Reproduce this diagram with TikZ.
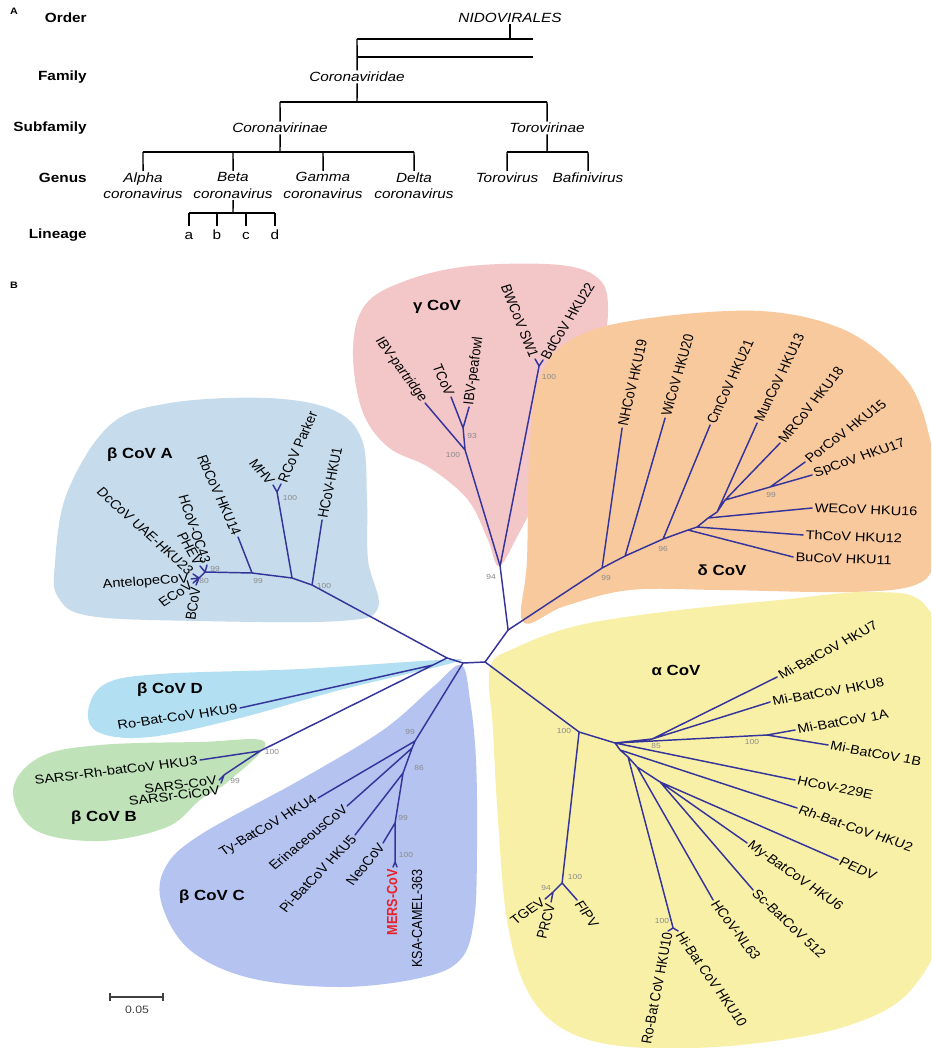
\documentclass[tikz,border=0pt]{standalone}
\usepackage{fontspec}
\setmainfont{Liberation Sans}
\usetikzlibrary{calc}
\definecolor{treec}{HTML}{34349A}
\definecolor{blobA}{HTML}{C6DBEB}
\definecolor{blobG}{HTML}{F3C6C8}
\definecolor{blobDel}{HTML}{F9C99E}
\definecolor{blobAl}{HTML}{F9F0A7}
\definecolor{blobD}{HTML}{B2DFF2}
\definecolor{blobB}{HTML}{BFE2B9}
\definecolor{blobC}{HTML}{B5C3F0}
\definecolor{bsgray}{HTML}{8A8A8A}
\definecolor{mersred}{HTML}{E8202A}
\begin{document}
\begin{tikzpicture}[x=0.65217pt,y=-0.75pt,
  br/.style={draw=treec, line width=1.1pt, line cap=round, line join=round},
  tl/.style={draw=black, line width=1.1pt},
  lf/.style={font=\fontsize{9.5}{11}\selectfont, inner sep=1.5pt},
  lr/.style={rotate={atan(1.15*tan(#1))}},
  bs/.style={font=\fontsize{5.5}{6}\selectfont, text=bsgray, inner sep=0pt},
  clade/.style={font=\fontsize{11}{13}\selectfont\bfseries},
  rank/.style={font=\fontsize{10}{12}\selectfont\bfseries, anchor=east, inner sep=0pt},
  taxon/.style={font=\fontsize{10}{12.5}\selectfont\itshape, inner sep=1pt, align=center},
  lin/.style={font=\fontsize{10}{12}\selectfont, inner sep=0pt, anchor=base},
  panel/.style={font=\fontsize{7}{8}\selectfont\bfseries, inner sep=0pt}]
\begin{scope}[xscale=1.15, transform shape]
\useasboundingbox (0,0) rectangle (931,1048);
\fill[white] (0,0) rectangle (931,1048);

% ---------------- Panel A ----------------
\node[panel] (pA) at (14,11) {A};
\node[rank] (rOrder) at (87,18) {Order};
\node[rank] (rFamily) at (87,77) {Family};
\node[rank] (rSub) at (87,128) {Subfamily};
\node[rank] (rGenus) at (87,178) {Genus};
\node[rank] (rLin) at (87,235) {Lineage};

\node[taxon] (nido) at (510,18) {NIDOVIRALES};
\node[taxon] (corv) at (357,77) {Coronaviridae};
\node[taxon] (corvi) at (280,128) {Coronavirinae};
\node[taxon] (torvi) at (547,128) {Torovirinae};
\node[taxon, anchor=north] (gAlpha) at (143,171) {Alpha\\coronavirus};
\node[taxon, anchor=north] (gBeta) at (233,171) {Beta\\coronavirus};
\node[taxon, anchor=north] (gGamma) at (323,171) {Gamma\\coronavirus};
\node[taxon, anchor=north] (gDelta) at (414,171) {Delta\\coronavirus};
\node[taxon, anchor=north] (gToro) at (507,171) {Torovirus};
\node[taxon, anchor=north] (gBafi) at (588,171) {Bafinivirus};
\node[lin] (la) at (189,240) {a};
\node[lin] (lb) at (217,240) {b};
\node[lin] (lc) at (246,240) {c};
\node[lin] (ld) at (275,240) {d};

\draw[tl] (nido.south) -- (nido.south |- 0,39);
\draw[tl] (357,39) -- (533,39);
\draw[tl] (357,57) -- (533,57);
\draw[tl] (357,39) -- (corv.north);
\draw[tl] (corv.south) -- (357,102);
\draw[tl] (280,102) -- (547,102);
\draw[tl] (280,102) -- (corvi.north);
\draw[tl] (547,102) -- (torvi.north);
\draw[tl] (corvi.south) -- (280,152);
\draw[tl] (143,152) -- (414,152);
\draw[tl] (143,152) -- (gAlpha.north);
\draw[tl] (233,152) -- (gBeta.north);
\draw[tl] (323,152) -- (gGamma.north);
\draw[tl] (414,152) -- (gDelta.north);
\draw[tl] (torvi.south) -- (547,152);
\draw[tl] (507,152) -- (588,152);
\draw[tl] (507,152) -- (gToro.north);
\draw[tl] (588,152) -- (gBafi.north);
\draw[tl] (gBeta.south) -- (233,213);
\draw[tl] (189,213) -- (275,213);
\draw[tl] (189,213) -- (189,226);
\draw[tl] (217,213) -- (217,226);
\draw[tl] (246,213) -- (246,226);
\draw[tl] (275,213) -- (275,226);

% ---------------- Panel B ----------------
\node[panel] (pB) at (14,285) {B};

\begin{scope}
\clip (0,0) rectangle (931,1048);
\fill[blobA] plot[smooth cycle, tension=0.6] coordinates {(55,563) (67,493) (110,425) (170,403) (267,398) (333,410) (362,440) (367,500) (368,560) (378,608) (340,621) (200,621) (90,616) (58,597)};
\fill[blobG] plot[smooth cycle, tension=0.6] coordinates {(353,350) (365,305) (405,281) (470,266) (560,265) (600,280) (608,312) (600,352) (578,402) (548,475) (518,535) (499,566) (488,540) (468,500) (430,468) (388,447) (362,410)};
\fill[blobDel] plot[smooth cycle, tension=0.6] coordinates {(523,622) (527,560) (530,440) (542,372) (578,336) (650,318) (760,311) (840,328) (893,365) (922,410) (940,500) (935,560) (915,585) (850,592) (720,590) (630,590) (565,606)};
\fill[blobAl] plot[smooth cycle, tension=0.6] coordinates {(490,668) (515,648) (580,625) (680,610) (780,600) (870,592) (925,605) (945,680) (945,900) (915,985) (850,1025) (740,1045) (630,1047) (565,1030) (527,990) (507,920) (498,820) (493,730)};
\fill[blobD] plot[smooth cycle, tension=0.6] coordinates {(88,712) (105,684) (160,674) (300,669) (440,660) (452,663) (340,690) (240,718) (150,737) (100,733)};
\fill[blobB] plot[smooth cycle, tension=0.6] coordinates {(13,790) (40,757) (100,745) (200,742) (265,742) (230,780) (200,800) (167,827) (100,841) (35,830)};
\fill[blobC] plot[smooth cycle, tension=0.6] coordinates {(461,665) (470,700) (476,760) (477,850) (474,920) (460,960) (420,978) (340,987) (250,978) (190,950) (162,905) (165,868) (200,835) (300,780) (383,730) (433,687)};
\end{scope}

% ---- tree coordinates ----
\coordinate (hubL) at (447,658); \coordinate (hubC) at (463,663);
\coordinate (hubR) at (485,662); \coordinate (nGD) at (508,630);
\coordinate (bA1) at (312,585); \coordinate (bA2) at (292,578);
\coordinate (bA3) at (252,573); \coordinate (bA4) at (205,572);
\coordinate (bA5) at (199,578);
\coordinate (lHKU1) at (322,520); \coordinate (fMHV) at (277,492);
\coordinate (lMHV) at (273,485); \coordinate (lRCoV) at (281,484);
\coordinate (lRb) at (238,537); \coordinate (lOC43) at (207,565);
\coordinate (lPHEV) at (200,566); \coordinate (lDc) at (193,574);
\coordinate (lAnt) at (191,579); \coordinate (lE) at (193,583);
\coordinate (lBC) at (196,585);
\coordinate (nDB) at (433,665); \coordinate (lHKU9) at (240,708);
\coordinate (bB1) at (260,751); \coordinate (lHKU3) at (200,760);
\coordinate (bB2) at (224,775); \coordinate (lSARS) at (219,780);
\coordinate (lCi) at (221,783);
\coordinate (bC1) at (415,741); \coordinate (bC2) at (412,748);
\coordinate (bC3) at (403,773); \coordinate (bC4) at (395,823);
\coordinate (bC5) at (395,862);
\coordinate (lTy) at (318,798); \coordinate (lEri) at (347,806);
\coordinate (lPi) at (355,835); \coordinate (lNeo) at (383,843);
\coordinate (lMERS) at (393,867); \coordinate (lKSA) at (397,867);
\coordinate (g94) at (500,566); \coordinate (g100) at (465,450);
\coordinate (g93) at (463,428); \coordinate (lIBVp) at (425,403);
\coordinate (lTCoV) at (451,397); \coordinate (lIBVpf) at (469,407);
\coordinate (gBd) at (539,366); \coordinate (lBW) at (535,359);
\coordinate (lBd) at (543,360);
\coordinate (d1) at (602,568); \coordinate (lNH) at (622,428);
\coordinate (d2) at (625,556); \coordinate (lWi) at (665,418);
\coordinate (d3) at (663,539); \coordinate (lCm) at (710,425);
\coordinate (d4) at (688,530); \coordinate (lBu) at (793,557);
\coordinate (d5) at (697,527); \coordinate (lTh) at (803,535);
\coordinate (d6) at (708,518); \coordinate (lWE) at (812,508);
\coordinate (d7) at (717,512); \coordinate (lMun) at (757,423);
\coordinate (d8) at (725,500); \coordinate (lMR) at (780,443);
\coordinate (d9) at (770,487); \coordinate (lPor) at (805,462);
\coordinate (lSp) at (812,475);
\coordinate (a1) at (579,732); \coordinate (a2) at (562,883);
\coordinate (lFIPV) at (577,900); \coordinate (a3) at (553,892);
\coordinate (lTGEV) at (545,899); \coordinate (lPRCV) at (551,902);
\coordinate (a4) at (615,743); \coordinate (a5) at (652,739);
\coordinate (lK7) at (777,677); \coordinate (lK8) at (770,702);
\coordinate (a6) at (767,735); \coordinate (l1A) at (795,730);
\coordinate (l1B) at (828,745); \coordinate (l229) at (795,780);
\coordinate (a7) at (620,750); \coordinate (lRh) at (797,808);
\coordinate (a8) at (628,757); \coordinate (a9) at (673,928);
\coordinate (lRo) at (668,931); \coordinate (lHi) at (678,931);
\coordinate (a10) at (637,767); \coordinate (lNL) at (713,900);
\coordinate (a11) at (660,782); \coordinate (lPED) at (838,860);
\coordinate (lMy) at (747,843); \coordinate (lSc) at (753,890);

% ---- branches ----
\draw[br] (hubL)--(hubC) (hubC)--(hubR) (hubR)--(nGD);
\draw[br] (hubL)--(bA1) (bA1)--(bA2) (bA2)--(bA3) (bA3)--(bA4) (bA4)--(bA5)
  (bA1)--(lHKU1) (bA2)--(fMHV) (fMHV)--(lMHV) (fMHV)--(lRCoV) (bA3)--(lRb)
  (bA4)--(lOC43) (bA4)--(lPHEV) (bA5)--(lDc) (bA5)--(lAnt) (bA5)--(lE) (bA5)--(lBC);
\draw[br] (hubL)--(nDB) (nDB)--(lHKU9) (nDB)--(bB1) (bB1)--(lHKU3) (bB1)--(bB2)
  (bB2)--(lSARS) (bB2)--(lCi);
\draw[br] (hubC)--(bC1) (bC1)--(lTy) (bC1)--(bC2) (bC2)--(lEri) (bC2)--(bC3)
  (bC3)--(lPi) (bC3)--(bC4) (bC4)--(lNeo) (bC4)--(bC5) (bC5)--(lMERS) (bC5)--(lKSA);
\draw[br] (nGD)--(g94) (g94)--(g100) (g100)--(lIBVp) (g100)--(g93) (g93)--(lTCoV)
  (g93)--(lIBVpf) (g94)--(gBd) (gBd)--(lBW) (gBd)--(lBd);
\draw[br] (nGD)--(d1) (d1)--(lNH) (d1)--(d2) (d2)--(lWi) (d2)--(d3) (d3)--(lCm)
  (d3)--(d4) (d4)--(lBu) (d4)--(d5) (d5)--(lTh) (d5)--(d6) (d6)--(lWE) (d6)--(d7)
  (d7)--(lMun) (d7)--(d8) (d8)--(lMR) (d8)--(d9) (d9)--(lPor) (d9)--(lSp);
\draw[br] (hubR)--(a1) (a1)--(a2) (a2)--(lFIPV) (a2)--(a3) (a3)--(lTGEV) (a3)--(lPRCV)
  (a1)--(a4) (a4)--(a5) (a5)--(lK7) (a5)--(lK8) (a4)--(a6) (a6)--(l1A) (a6)--(l1B)
  (a4)--(l229) (a4)--(a7) (a7)--(lRh) (a7)--(a8) (a8)--(a9) (a9)--(lRo) (a9)--(lHi)
  (a8)--(a10) (a10)--(lNL) (a10)--(a11) (a11)--(lPED) (a11)--(lMy) (a11)--(lSc);

% ---- clade labels ----
\node[clade] (cA) at (140,455) {β CoV A};
\node[clade] (cG) at (437,307) {γ CoV};
\node[clade] (cDel) at (722,570) {δ CoV};
\node[clade] (cAl) at (676,670) {α CoV};
\node[clade] (cD) at (170,690) {β CoV D};
\node[clade] (cB) at (104,818) {β CoV B};
\node[clade] (cC) at (212,897) {β CoV C};

% ---- leaf labels ----
\node[lf, anchor=west, lr=78] (tHKU1) at (lHKU1) {HCoV-HKU1};
\node[lf, anchor=east, lr=-50] (tMHV) at (lMHV) {MHV};
\node[lf, anchor=west, lr=66] (tRCoV) at (lRCoV) {RCoV Parker};
\node[lf, anchor=east, lr=-66] (tRb) at (lRb) {RbCoV HKU14};
\node[lf, anchor=east, lr=-71] (tOC43) at (lOC43) {HCoV-OC43};
\node[lf, anchor=east, lr=-60] (tPHEV) at (lPHEV) {PHEV};
\node[lf, anchor=east, lr=-42] (tDc) at (lDc) {DcCoV UAE-HKU23};
\node[lf, anchor=east, lr=4] (tAnt) at (lAnt) {AntelopeCoV};
\node[lf, anchor=east, lr=33] (tE) at (lE) {ECoV};
\node[lf, anchor=east, lr=81] (tBC) at (lBC) {BCoV};
\node[lf, anchor=east, lr=8] (tHKU9) at (lHKU9) {Ro-Bat-CoV HKU9};
\node[lf, anchor=east, lr=7] (tHKU3) at (lHKU3) {SARSr-Rh-batCoV HKU3};
\node[lf, anchor=east, lr=7] (tSARS) at (lSARS) {SARS-CoV};
\node[lf, anchor=north east, lr=7] (tCi) at (lCi) {SARSr-CiCoV};
\node[lf, anchor=east, lr=30] (tTy) at (lTy) {Ty-BatCoV HKU4};
\node[lf, anchor=east, lr=39] (tEri) at (lEri) {ErinaceousCoV};
\node[lf, anchor=east, lr=46] (tPi) at (lPi) {Pi-BatCoV HKU5};
\node[lf, anchor=east, lr=50] (tNeo) at (lNeo) {NeoCoV};
\node[lf, anchor=east, rotate=90, text=mersred, font=\fontsize{9.5}{11}\selectfont\bfseries] (tMERS) at ($(lMERS)+(-1,0)$) {MERS-CoV};
\node[lf, anchor=east, rotate=90] (tKSA) at ($(lKSA)+(20,0)$) {KSA-CAMEL-363};
\node[lf, anchor=east, lr=-54] (tIBVp) at (lIBVp) {IBV-partridge};
\node[lf, anchor=east, lr=-66] (tTCoV) at (lTCoV) {TCoV};
\node[lf, anchor=west, lr=82] (tIBVpf) at (lIBVpf) {IBV-peafowl};
\node[lf, anchor=east, lr=-68] (tBW) at (lBW) {BWCoV SW1};
\node[lf, anchor=west, lr=58] (tBd) at (lBd) {BdCoV HKU22};
\node[lf, anchor=west, lr=77] (tNH) at (lNH) {NHCoV HKU19};
\node[lf, anchor=west, lr=74] (tWi) at (lWi) {WiCoV HKU20};
\node[lf, anchor=west, lr=65] (tCm) at (lCm) {CmCoV HKU21};
\node[lf, anchor=west, lr=64] (tMun) at (lMun) {MunCoV HKU13};
\node[lf, anchor=west, lr=51] (tMR) at (lMR) {MRCoV HKU18};
\node[lf, anchor=west, lr=37] (tPor) at (lPor) {PorCoV HKU15};
\node[lf, anchor=west, lr=19] (tSp) at (lSp) {SpCoV HKU17};
\node[lf, anchor=west, lr=-2] (tWE) at (lWE) {WECoV HKU16};
\node[lf, anchor=west, lr=-2] (tTh) at (lTh) {ThCoV HKU12};
\node[lf, anchor=west, lr=-2] (tBu) at (lBu) {BuCoV HKU11};
\node[lf, anchor=west, lr=28] (tK7) at (lK7) {Mi-BatCoV HKU7};
\node[lf, anchor=west, lr=10] (tK8) at (lK8) {Mi-BatCoV HKU8};
\node[lf, anchor=west, lr=10] (t1A) at (l1A) {Mi-BatCoV 1A};
\node[lf, anchor=west, lr=-10] (t1B) at (l1B) {Mi-BatCoV 1B};
\node[lf, anchor=west, lr=-11] (t229) at (l229) {HCoV-229E};
\node[lf, anchor=west, lr=-19] (tRh) at (lRh) {Rh-Bat-CoV HKU2};
\node[lf, anchor=west, lr=-24] (tPED) at (lPED) {PEDV};
\node[lf, anchor=west, lr=-35] (tMy) at (lMy) {My-BatCoV HKU6};
\node[lf, anchor=west, lr=-43] (tSc) at (lSc) {Sc-BatCoV 512};
\node[lf, anchor=west, lr=-53] (tNL) at (lNL) {HCoV-NL63};
\node[lf, anchor=west, lr=-55] (tHi) at (lHi) {Hi-Bat CoV HKU10};
\node[lf, anchor=east, lr=79] (tRo) at (lRo) {Ro-Bat CoV HKU10};
\node[lf, anchor=east, lr=35] (tTGEV) at (lTGEV) {TGEV};
\node[lf, anchor=east, lr=75] (tPRCV) at (lPRCV) {PRCV};
\node[lf, anchor=west, lr=-55] (tFIPV) at (lFIPV) {FIPV};

% ---- bootstrap values ----
\node[bs] at (290,498) {100};
\node[bs] at (324,586) {100};
\node[bs] at (258,581) {99};
\node[bs] at (215,569) {99};
\node[bs] at (204,581) {80};
\node[bs] at (272,752) {100};
\node[bs] at (235,781) {99};
\node[bs] at (410,732) {99};
\node[bs] at (419,768) {86};
\node[bs] at (403,818) {99};
\node[bs] at (406,855) {100};
\node[bs] at (472,436) {93};
\node[bs] at (453,455) {100};
\node[bs] at (549,377) {100};
\node[bs] at (491,577) {94};
\node[bs] at (606,578) {99};
\node[bs] at (663,549) {96};
\node[bs] at (771,495) {99};
\node[bs] at (564,731) {100};
\node[bs] at (656,746) {85};
\node[bs] at (752,742) {100};
\node[bs] at (575,877) {100};
\node[bs] at (546,888) {94};
\node[bs] at (662,921) {100};

% ---- scale bar ----
\coordinate (sb1) at (110,997); \coordinate (sb2) at (163,997);
\draw[line width=0.8pt, draw=black!75] (sb1) -- (sb2);
\draw[line width=0.8pt, draw=black!75] ($(sb1)+(0,-4)$) -- ($(sb1)+(0,4)$);
\draw[line width=0.8pt, draw=black!75] ($(sb2)+(0,-4)$) -- ($(sb2)+(0,4)$);
\node[font=\fontsize{8}{9}\selectfont, text=black!75, anchor=north] (sbl) at (137,1001) {0.05};
\end{scope}
\end{tikzpicture}
\end{document}
